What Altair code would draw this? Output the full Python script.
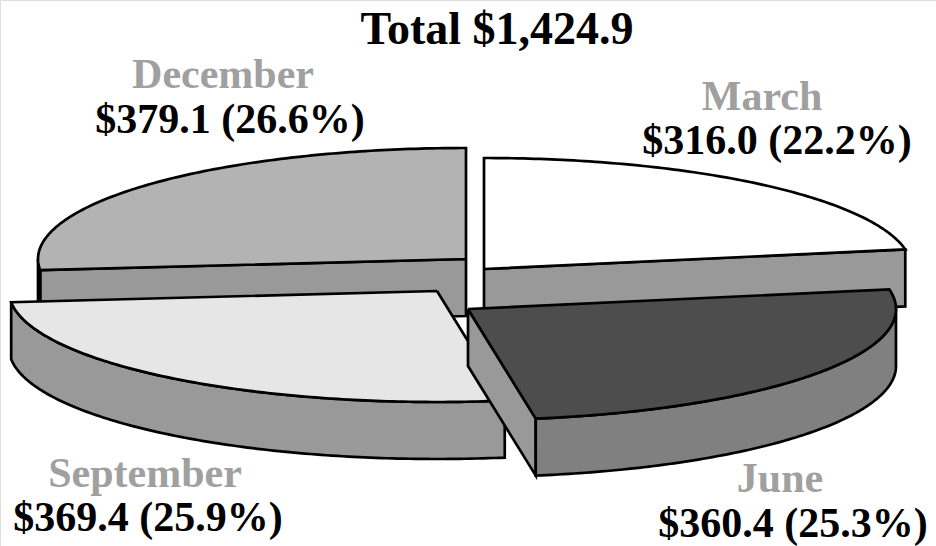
import altair as alt
import numpy as np
import pandas as pd

# ---------------- data ----------------
MONTHS = ["March", "June", "September", "December"]
VALUES = [316.0, 360.4, 369.4, 379.1]
TOTAL_LABEL = "Total"

# ---------------- style ----------------
W, H = 936, 546
CENTER_PX = (466, 280)            # pie centre in the window (px from left / top)
RX, RY, DEPTH = 428.0, 111.0, 57.0
START_ANGLE = 90.0                # first slice starts at 12 o'clock, clockwise
EXPLODE = {                        # per-slice explosion (px, y up)
    "March": (18, 11),
    "June": (2, -29),
    "September": (-29, -11),
    "December": (0, 21),
}
TOP = {"March": "#ffffff", "June": "#4d4d4d", "September": "#e6e6e6", "December": "#b3b3b3"}
RIM = {"March": "#999999", "June": "#808080", "September": "#999999", "December": "#999999"}
CUT = {"March": "#999999", "June": "#999999", "September": "#999999", "December": "#999999"}
DRAW_ORDER = ["December", "March", "September", "June"]
STROKE_W = 2.7
FONT = "Liberation Serif"
NAME_COLOR = "#a0a0a0"
LABEL_SIZE = 42
TITLE_SIZE = 46
LABEL_POS = {  # (name x, name baseline, value x, value baseline) in px
    "December": (223, 88, 230, 133),
    "March": (762, 110, 777, 154),
    "September": (145, 487, 148, 531),
    "June": (780, 492, 793, 537),
}
TITLE_POS = (497, 44)

total = sum(VALUES)
xdom = [-CENTER_PX[0], W - CENTER_PX[0]]
ydom = [-(H - CENTER_PX[1]), CENTER_PX[1]]
xs = alt.Scale(domain=xdom, nice=False, zero=False)
ys = alt.Scale(domain=ydom, nice=False, zero=False)

# slice angle ranges derived from values
angles = {}
acc = 0.0
for m, v in zip(MONTHS, VALUES):
    hi = START_ANGLE - acc / total * 360.0
    lo = hi - v / total * 360.0
    angles[m] = (lo, hi)
    acc += v


def pt(m, th, z):
    ox, oy = EXPLODE[m]
    r = np.radians(th)
    return ox + RX * np.cos(r), oy + RY * np.sin(r) - z


def arc(m, a, b, z):
    n = max(2, int(abs(b - a) / 0.75) + 1)
    return [pt(m, t, z) for t in np.linspace(a, b, n)]


def polygon_layer(points, fill):
    pts = list(points) + [points[0]]
    df = pd.DataFrame({"x": [p[0] for p in pts], "y": [p[1] for p in pts],
                       "i": list(range(len(pts)))})
    return alt.Chart(df).mark_line(
        fill=fill, stroke="black", strokeWidth=STROKE_W, strokeJoin="miter", interpolate="linear"
    ).encode(
        x=alt.X("x:Q", scale=xs, axis=None),
        y=alt.Y("y:Q", scale=ys, axis=None),
        order=alt.Order("i:Q"),
    )


layers = []
for m in DRAW_ORDER:
    lo, hi = angles[m]
    ox, oy = EXPLODE[m]
    apex_t = (ox, oy)
    apex_b = (ox, oy - DEPTH)
    # radial cut faces that face the viewer
    for th, vis in ((lo, np.cos(np.radians(lo)) > 1e-9), (hi, np.cos(np.radians(hi)) < -1e-9)):
        if vis:
            layers.append(polygon_layer([apex_t, pt(m, th, 0), pt(m, th, DEPTH), apex_b], CUT[m]))
    # front part of the outer rim
    for k in (-2, -1, 0, 1):
        a = max(lo, -180 + 360 * k)
        b = min(hi, 360 * k)
        if b - a > 1e-6:
            top = arc(m, a, b, 0)
            bot = arc(m, b, a, DEPTH)
            layers.append(polygon_layer(top + bot, RIM[m]))
    # top face
    layers.append(polygon_layer([apex_t] + arc(m, lo, hi, 0), TOP[m]))


def text_layer(txt, x, y, color, size):
    return alt.Chart(pd.DataFrame({"t": [txt]})).mark_text(
        font=FONT, fontWeight="bold", fontSize=size, color=color,
        align="center", baseline="alphabetic"
    ).encode(x=alt.value(x), y=alt.value(y), text="t:N")


for m, v in zip(MONTHS, VALUES):
    nx, ny, vx, vy = LABEL_POS[m]
    layers.append(text_layer(m, nx, ny, NAME_COLOR, LABEL_SIZE))
    layers.append(text_layer(f"${v:.1f} ({v / total * 100:.1f}%)", vx, vy, "black", LABEL_SIZE))

layers.append(text_layer(f"{TOTAL_LABEL} ${total:,.1f}", TITLE_POS[0], TITLE_POS[1], "black", TITLE_SIZE))

chart = alt.layer(*layers).properties(
    width=W, height=H,
    autosize=alt.AutoSizeParams(type="none"),
    padding=0,
).configure_view(stroke=None).configure(background="white")

chart.save("out.html", embed_options={"renderer": "svg", "actions": False})
